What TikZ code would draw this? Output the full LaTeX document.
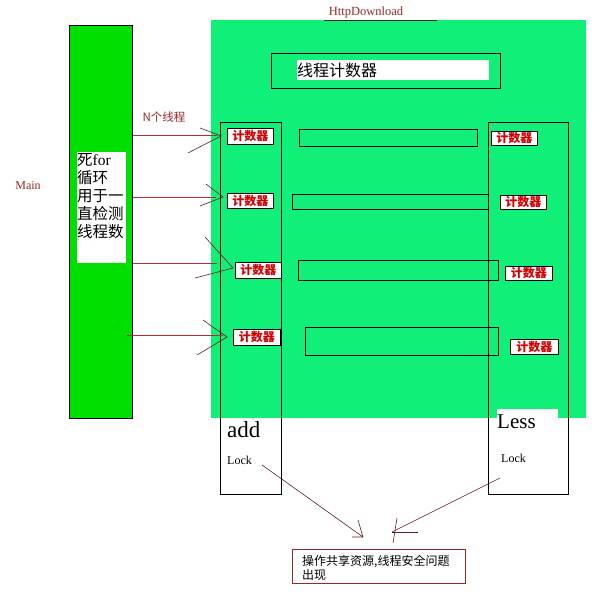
\documentclass[tikz,border=0pt]{standalone}
\usepackage{fontspec}
\setmainfont{Liberation Serif}
\newfontfamily\cjk{Noto Sans CJK SC}
\definecolor{maingreen}{RGB}{0,224,0}
\definecolor{httpgreen}{RGB}{16,240,120}
\definecolor{darkred}{RGB}{150,40,40}
\definecolor{connred}{RGB}{190,40,40}
\definecolor{armdark}{RGB}{90,30,30}
\definecolor{cntred}{RGB}{210,0,0}
\tikzset{
  plainbox/.style={draw=black, line width=0.6pt, anchor=north west, inner sep=0pt},
  counter/.style={plainbox, fill=white, text=cntred, font=\cjk\bfseries\fontsize{12}{12}\selectfont},
  conn/.style={draw=connred, line width=0.8pt},
  arm/.style={draw=armdark, line width=0.6pt},
  lbl/.style={inner sep=0pt, text=darkred},
}
\begin{document}
\begin{tikzpicture}[x=1pt,y=-1pt]
\useasboundingbox (0,0) rectangle (599,591);
\fill[white] (0,0) rectangle (599,591);

% HttpDownload area
\node[anchor=north west, inner sep=0pt, fill=httpgreen, minimum width=375pt, minimum height=398pt] (http) at (211,20) {};
\node[lbl, font=\fontsize{12.5}{12.5}\selectfont] (httplbl) at (366,12) {HttpDownload};
\draw[draw=armdark, line width=0.8pt] (324,20) -- (437,20);

% Main bar
\node[plainbox, fill=maingreen, minimum width=63pt, minimum height=393pt] (main) at (69,25) {};
\node[anchor=north west, inner sep=0pt, fill=white, minimum width=49pt, minimum height=111pt] (mbox) at (77,152) {};
\node[anchor=north west, inner sep=0pt, align=left, font=\cjk\fontsize{15.5}{18}\selectfont] (mtext) at (77,153)
  {死{\rmfamily for}\\循环\\用于一\\直检测\\线程数};
\node[lbl, font=\fontsize{12}{12}\selectfont] (mainlbl) at (28,186) {Main};

% thread counter box
\node[plainbox, minimum width=229pt, minimum height=35pt] (tcbox) at (271,53) {};
\node[anchor=north west, inner sep=0pt, fill=white, minimum width=192pt, minimum height=20pt] (tcfill) at (297,60) {};
\node[anchor=west, inner sep=0pt, font=\cjk\fontsize{16}{16}\selectfont] (tctext) at (297,70) {线程计数器};

% columns
\node[plainbox, minimum width=61pt, minimum height=372pt] (lcol) at (220,122) {};
\node[anchor=north west, inner sep=0pt, fill=white, minimum width=61pt, minimum height=9pt] (lesspatch) at (497,409) {};
\node[plainbox, minimum width=80pt, minimum height=372pt] (rcol) at (488,122) {};

% middle bars
\node[plainbox, minimum width=178pt, minimum height=17pt] (bar1) at (299,129) {};
\node[plainbox, minimum width=196pt, minimum height=15pt] (bar2) at (292,194) {};
\node[plainbox, minimum width=200pt, minimum height=20pt] (bar3) at (298,260) {};
\node[plainbox, minimum width=193pt, minimum height=28pt] (bar4) at (305,327) {};

% counters
\node[counter, minimum width=46pt, minimum height=16pt] (lc1) at (227,128) {计数器};
\node[counter, minimum width=46pt, minimum height=15pt] (lc2) at (227,193) {计数器};
\node[counter, minimum width=46pt, minimum height=16pt] (lc3) at (235,262) {计数器};
\node[counter, minimum width=47pt, minimum height=16pt] (lc4) at (233,329) {计数器};
\node[counter, minimum width=46pt, minimum height=14pt] (rc1) at (491,131) {计数器};
\node[counter, minimum width=46pt, minimum height=14pt] (rc2) at (500,195) {计数器};
\node[counter, minimum width=47pt, minimum height=14pt] (rc3) at (505,266) {计数器};
\node[counter, minimum width=48pt, minimum height=15pt] (rc4) at (510,339) {计数器};

% labels in columns
\node[anchor=west, inner sep=0pt, font=\fontsize{23}{23}\selectfont] (add) at (227,430) {add};
\node[anchor=west, inner sep=0pt, font=\fontsize{12}{12}\selectfont] (addlock) at (227,460) {Lock};
\node[anchor=west, inner sep=0pt, font=\fontsize{21}{21}\selectfont] (less) at (497,422) {Less};
\node[anchor=west, inner sep=0pt, font=\fontsize{12}{12}\selectfont] (lesslock) at (501,458) {Lock};

% N threads label
\node[lbl, font=\cjk\fontsize{11.5}{11.5}\selectfont] (nlbl) at (164,117) {N个线程};

% arrows to counters
\coordinate (t1) at (221,136); \coordinate (a1u) at (200,128); \coordinate (a1d) at (188,153);
\coordinate (h1) at (217,135);
\draw[conn] (main.east |- h1) -- (h1);
\draw[arm] (a1u) -- (t1) -- (a1d);

\coordinate (t2) at (223,197); \coordinate (a2u) at (206,184); \coordinate (a2d) at (200,206);
\coordinate (h2) at (216,197);
\draw[conn] (main.east |- h2) -- (h2);
\draw[arm] (a2u) -- (t2) -- (a2d);

\coordinate (t3) at (233,268); \coordinate (a3u) at (205,237); \coordinate (a3d) at (195,278);
\coordinate (h3) at (217,263);
\draw[conn] (main.east |- h3) -- (h3);
\draw[arm] (a3u) -- (t3) -- (a3d);

\coordinate (t4) at (227,337); \coordinate (a4u) at (203,320); \coordinate (a4d) at (197,355);
\coordinate (h4) at (223,335); \coordinate (s4) at (127,335);
\draw[conn] (s4) -- (h4);
\draw[arm] (a4u) -- (t4) -- (a4d);

% result box
\node[anchor=north west, inner sep=0pt, draw=darkred, line width=0.7pt, minimum width=173pt, minimum height=34pt] (res) at (292,549) {};
\node[anchor=north west, inner sep=0pt, align=left, font=\cjk\fontsize{12}{14.5}\selectfont] (restext) at (302,555)
  {操作共享资源,线程安全问题\\出现};

% lock arrows
\coordinate (l1s) at (262,465); \coordinate (l1t) at (363,537);
\coordinate (l1a) at (358,520); \coordinate (l1b) at (352,537);
\draw[arm] (l1s) -- (l1t);
\draw[arm] (l1a) -- (l1t) -- (l1b);
\coordinate (l2s) at (500,478); \coordinate (l2t) at (392,532);
\coordinate (l2a) at (397,518); \coordinate (l2b) at (393,543); \coordinate (l2c) at (418,532);
\draw[arm] (l2s) -- (l2t);
\draw[arm] (l2a) -- (l2b);
\draw[arm] (l2t) -- (l2c);
\end{tikzpicture}
\end{document}
